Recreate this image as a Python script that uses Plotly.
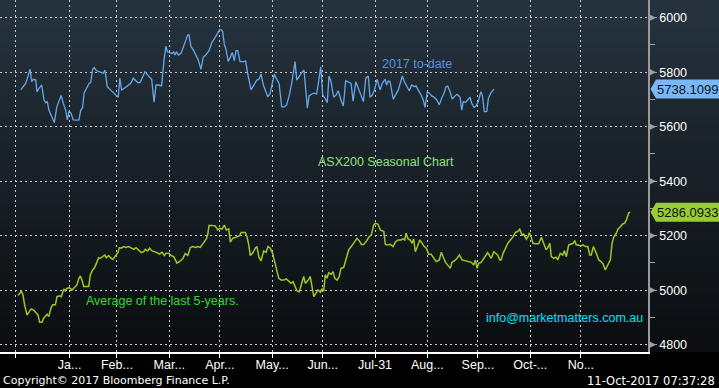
import plotly.graph_objects as go
import pandas as pd

# ---------------- data ----------------
base_date = pd.Timestamp("2016-12-30")

# 2017 to-date (days after 30-Dec-2016, index level)
blue_days = [3.0, 4.5, 5.9, 7.1, 8.5, 9.5, 10.4, 11.9, 12.6, 13.8, 15.4, 16.8, 17.8, 18.7, 19.7, 21.3, 22.9,
             24.3, 25.5, 26.9, 28.2, 29.6, 30.6, 31.6, 32.8, 34.1, 36.2, 37.5, 38.5, 39.7, 40.5, 42.1, 43.5,
             44.5, 45.6, 46.6, 47.8, 49.4, 51.0, 51.9, 52.9, 54.3, 55.9, 57.9, 59.9, 60.8, 61.7, 62.8, 64.4,
             66.4, 68.2, 69.7, 71.1, 72.3, 73.7, 75.0, 76.7, 78.2, 79.6, 80.6, 82.0, 83.2, 84.5, 86.5, 87.9,
             89.1, 89.9, 91.1, 92.5, 93.7, 94.4, 95.4, 96.4, 98.0, 99.4, 100.8, 102.0, 102.7, 103.9, 105.3,
             106.9, 108.2, 109.8, 111.2, 112.6, 114.6, 116.2, 117.7, 119.2, 120.7, 121.7, 122.7, 123.7, 124.5,
             126.0, 127.5, 128.4, 129.6, 130.6, 131.6, 133.0, 134.9, 136.3, 137.5, 139.5, 140.8, 142.3, 142.9,
             144.2, 145.4, 146.8, 148.2, 149.4, 150.7, 152.1, 153.3, 154.7, 156.1, 157.7, 159.2, 160.6, 162.2,
             163.6, 164.8, 165.6, 166.6, 168.1, 169.5, 170.9, 171.9, 172.9, 173.9, 175.5, 177.0, 178.4, 179.4,
             180.8, 182.0, 183.4, 184.7, 185.7, 186.9, 188.5, 189.9, 191.2, 192.8, 194.2, 195.6, 197.2, 198.8,
             200.0, 201.6, 203.1, 204.7, 206.1, 207.5, 209.0, 210.0, 211.4, 212.7, 214.2, 216.0, 217.3, 218.9,
             219.9, 220.9, 221.9, 223.8, 225.3, 226.8, 228.2, 229.2, 230.4, 231.8, 233.3, 234.7, 236.3, 237.3,
             238.7, 240.3, 241.6, 242.6, 244.0, 245.2, 246.6, 248.1, 249.6, 251.1, 252.5, 253.9, 255.1, 256.1,
             257.5, 258.8, 260.4, 261.8, 263.4, 264.4, 265.3, 266.8, 267.9, 269.3, 270.3, 271.7, 272.9, 274.2,
             275.7, 276.6, 277.8, 279.2, 280.2, 281.6, 283.5]
blue_vals = [5735, 5747, 5759, 5781, 5811, 5765, 5774, 5771, 5728, 5741, 5753, 5698, 5688, 5692, 5661, 5637, 5615,
             5671, 5692, 5715, 5686, 5661, 5625, 5658, 5649, 5625, 5624, 5625, 5659, 5671, 5723, 5743, 5759,
             5763, 5811, 5817, 5806, 5802, 5798, 5796, 5808, 5747, 5737, 5725, 5713, 5708, 5778, 5735, 5741,
             5749, 5759, 5778, 5771, 5762, 5762, 5781, 5802, 5790, 5781, 5774, 5690, 5753, 5753, 5750, 5845,
             5896, 5875, 5873, 5869, 5874, 5863, 5875, 5863, 5869, 5894, 5918, 5937, 5937, 5894, 5882,
             5863, 5845, 5811, 5855, 5863, 5879, 5908, 5922, 5937, 5955, 5957, 5949, 5900, 5888,
             5839, 5859, 5872, 5842, 5879, 5879, 5839, 5839, 5841, 5796, 5735, 5749, 5765, 5771,
             5774, 5793, 5753, 5728, 5710, 5720, 5759, 5792, 5774, 5759, 5673, 5673, 5680, 5716,
             5759, 5802, 5839, 5771, 5786, 5798, 5808, 5747, 5668, 5713, 5720, 5723, 5720, 5759,
             5820, 5716, 5704, 5688, 5786, 5765, 5708, 5716, 5732, 5698, 5676, 5769, 5765, 5759,
             5694, 5765, 5741, 5716, 5692, 5778, 5786, 5708, 5716, 5735, 5774, 5735, 5759, 5774,
             5753, 5768, 5765, 5701, 5716, 5735, 5765, 5786, 5765, 5747, 5732, 5753, 5747, 5750,
             5735, 5716, 5698, 5671, 5728, 5723, 5713, 5708, 5698, 5680, 5704, 5723, 5747, 5749,
             5728, 5701, 5713, 5719, 5708, 5661, 5692, 5690, 5698, 5708, 5686, 5671, 5676, 5692,
             5728, 5716, 5655, 5655, 5704, 5723, 5738.1099]

# Average of the last 5 years
green_days = [1.2, 2.1, 3.3, 4.3, 5.3, 6.7, 8.1, 9.2, 10.7, 12.0, 13.2, 14.2, 15.6, 16.6, 17.5, 18.6, 19.6, 20.9,
              21.9, 23.5, 24.5, 26.1, 27.0, 28.5, 29.4, 30.4, 31.8, 33.4, 34.7, 36.3, 37.3, 38.3, 39.3, 40.3,
              41.7, 43.3, 44.2, 45.6, 46.8, 48.2, 49.2, 50.2, 51.6, 52.8, 53.7, 55.1, 56.5, 57.7, 59.0, 60.6,
              61.4, 62.6, 64.0, 65.4, 67.0, 68.4, 70.0, 71.3, 72.9, 74.5, 75.9, 76.8, 78.2, 79.4, 80.8, 82.4,
              83.8, 85.1, 86.7, 88.1, 89.1, 90.7, 92.1, 93.7, 95.6, 97.6, 99.2, 100.5, 102.0, 103.5, 105.1,
              106.5, 107.9, 109.4, 110.4, 111.8, 113.0, 113.8, 114.6, 116.4, 118.3, 119.7, 120.9, 122.3, 123.7,
              124.8, 126.3, 127.2, 128.6, 130.2, 131.6, 132.8, 133.6, 135.2, 136.1, 137.1, 138.1, 139.1, 140.7,
              142.0, 143.0, 144.1, 145.4, 147.0, 148.4, 149.6, 150.9, 152.3, 153.3, 154.9, 155.9, 157.3, 158.9,
              160.4, 161.8, 163.2, 164.4, 165.7, 166.8, 168.1, 169.3, 170.7, 171.7, 173.1, 174.6, 175.6, 176.7,
              178.0, 179.2, 180.6, 181.6, 182.6, 183.5, 184.5, 185.5, 186.9, 188.1, 189.1, 190.5, 191.8, 192.8,
              194.4, 195.8, 197.4, 198.9, 200.4, 202.3, 203.7, 204.9, 206.3, 207.7, 209.3, 210.8, 212.2, 213.2,
              214.8, 216.1, 218.2, 219.1, 220.7, 222.1, 223.7, 225.0, 226.6, 228.4, 229.6, 230.6, 231.4, 232.6,
              233.9, 234.9, 235.9, 236.9, 238.3, 239.5, 240.9, 242.2, 243.4, 244.8, 246.2, 247.8, 249.3, 251.1,
              252.3, 253.7, 255.1, 256.3, 257.6, 258.6, 260.0, 261.6, 263.0, 264.6, 266.5, 268.5, 270.1, 271.5,
              272.5, 273.5, 274.5, 275.8, 277.0, 278.4, 279.8, 281.0, 281.9, 283.4, 284.3, 285.7, 286.9, 287.7,
              288.9, 290.2, 291.7, 293.2, 294.8, 296.2, 297.6, 298.8, 300.1, 301.1, 302.7, 303.7, 304.5, 305.5,
              306.6, 308.0, 310.0, 311.6, 313.0, 314.4, 315.5, 316.6, 317.5, 318.9, 320.3, 321.3, 322.8, 324.3,
              325.2, 326.4, 327.8, 329.2, 330.4, 331.4, 332.3, 333.5, 335.1, 336.3, 337.7, 339.1, 340.3, 341.2,
              342.4, 344.2, 345.6, 347.0, 348.2, 349.5, 351.1, 352.5, 353.5, 354.5, 356.0, 357.0, 358.4, 359.8,
              361.0, 362.0, 363.4, 364.3]
green_vals = [4982, 4985, 4997, 4982, 4946, 4909, 4921, 4931, 4927, 4919, 4909, 4882, 4882, 4897, 4903, 4912, 4903, 4934,
              4946, 4946, 4976, 4979, 4976, 5004, 4997, 5007, 5009, 5001, 5009, 5019, 5041, 5052, 5037, 5013,
              5013, 5013, 5056, 5074, 5083, 5107, 5119, 5117, 5123, 5129, 5119, 5127, 5117, 5113, 5125, 5138,
              5156, 5154, 5160, 5157, 5160, 5154, 5150, 5156, 5148, 5138, 5141, 5150, 5144, 5154, 5144, 5141,
              5138, 5132, 5139, 5127, 5135, 5135, 5127, 5123, 5099, 5107, 5117, 5135, 5127, 5156, 5160,
              5157, 5160, 5157, 5166, 5176, 5188, 5203, 5237, 5237, 5236, 5221, 5227, 5224, 5239,
              5221, 5225, 5176, 5190, 5193, 5196, 5200, 5212, 5212, 5212, 5196, 5168, 5127, 5138,
              5154, 5160, 5123, 5107, 5144, 5139, 5160, 5154, 5135, 5111, 5074, 5044, 5037, 5037,
              5041, 5034, 5025, 5031, 5013, 4997, 4994, 5016, 5050, 5025, 5034, 5050, 5007, 4976,
              4989, 5001, 4992, 5004, 4997, 5056, 5044, 5064, 5058, 5068, 5044, 5037, 5050, 5080,
              5083, 5117, 5148, 5160, 5172, 5190, 5181, 5168, 5168, 5178, 5194, 5203, 5239, 5246,
              5242, 5221, 5215, 5168, 5166, 5168, 5160, 5176, 5184, 5184, 5188, 5184, 5209, 5188,
              5184, 5172, 5188, 5141, 5163, 5184, 5172, 5160, 5154, 5132, 5132, 5117, 5105, 5111,
              5139, 5117, 5099, 5090, 5080, 5102, 5107, 5117, 5129, 5111, 5107, 5105, 5102, 5092,
              5111, 5080, 5099, 5101, 5111, 5123, 5138, 5125, 5117, 5141, 5135, 5129, 5111, 5111,
              5135, 5154, 5172, 5184, 5196, 5212, 5215, 5224, 5203, 5206, 5187, 5196, 5211, 5196,
              5172, 5170, 5170, 5194, 5172, 5148, 5157, 5172, 5123, 5117, 5121, 5111, 5135, 5129,
              5145, 5123, 5166, 5170, 5172, 5182, 5166, 5166, 5162, 5166, 5160, 5160, 5129, 5129,
              5160, 5135, 5111, 5105, 5096, 5074, 5092, 5111, 5172, 5194, 5209, 5224, 5233, 5243,
              5246, 5258, 5284, 5286.0933]

tick_dates = ["2016-12-30", "2017-01-31", "2017-02-28", "2017-03-31", "2017-04-30", "2017-05-31",
              "2017-06-30", "2017-07-31", "2017-08-31", "2017-09-30", "2017-10-31", "2017-11-30"]
tick_labels = ["", "Ja...", "Feb...", "Mar...", "Apr...", "May...", "Jun...", "Jul-31",
               "Aug...", "Sep...", "Oct-...", "No..."]
y_ticks = [4800, 5000, 5200, 5400, 5600, 5800, 6000]

# ---------------- helpers ----------------
def to_dates(days):
    return [base_date + pd.Timedelta(days=float(d)) for d in days]

W, H = 719, 388
L, R, T, B = 0, 71, 0, 36
PW = W - L - R  # plot width in px
FONT = "Liberation Sans, Arial, sans-serif"
BFONT = "DejaVu Sans, Verdana, sans-serif"

fig = go.Figure()

fig.add_trace(go.Scatter(x=to_dates(green_days), y=green_vals, mode="lines",
                         line=dict(color="#9cc925", width=1.5), hoverinfo="skip"))
fig.add_trace(go.Scatter(x=to_dates(blue_days), y=blue_vals, mode="lines",
                         line=dict(color="#66a8ea", width=1.3), hoverinfo="skip"))

shapes = []
# vertical background gradient
n = 48
top = (38, 51, 62)
bot = (11, 13, 16)
for i in range(n):
    t = (i + 0.5) / n
    c = tuple(int(round(bot[k] + t * (top[k] - bot[k]))) for k in range(3))
    shapes.append(dict(type="rect", xref="paper", yref="paper", x0=-0.01, x1=1.2,
                       y0=i / n, y1=(i + 1) / n + 0.002, fillcolor=f"rgb{c}",
                       line=dict(width=0), layer="below"))

# right-axis triangle tick marks
px = lambda p: p / PW
dv = 3.6697  # index points per pixel
for v in y_ticks:
    shapes.append(dict(type="path", xref="paper", yref="y",
                       path=f"M {px(649)},{v + 3.5 * dv} L {px(656)},{v} L {px(649)},{v - 3.5 * dv} Z",
                       fillcolor="#a0a0a0", line=dict(width=0), layer="above"))

# last-value tags
def tag(v, fill):
    h = 9.5 * dv
    shapes.append(dict(type="path", xref="paper", yref="y",
                       path=(f"M {px(650.5)},{v} L {px(656)},{v + h} L {px(725)},{v + h} "
                             f"L {px(725)},{v - h} L {px(656)},{v - h} Z"),
                       fillcolor=fill, line=dict(width=0), layer="above"))

tag(blue_vals[-1], "#7ab8f5")
tag(green_vals[-1], "#9acd32")

annotations = [
    dict(text=f"{blue_vals[-1]:.4f}", x=px(687), y=blue_vals[-1], xref="paper", yref="y",
         showarrow=False, font=dict(family=FONT, size=13, color="#0a1420"), xanchor="center", yanchor="middle"),
    dict(text=f"{green_vals[-1]:.4f}", x=px(687), y=green_vals[-1], xref="paper", yref="y",
         showarrow=False, font=dict(family=FONT, size=13, color="#0a1405"), xanchor="center", yanchor="middle"),
    dict(text="2017 to-date", x=px(380), y=1 - 64 / 352, xref="paper", yref="paper", showarrow=False,
         font=dict(family=FONT, size=12.5, color="#5b8fe0"), xanchor="left", yanchor="middle"),
    dict(text="ASX200 Seasonal Chart", x=px(316), y=1 - 162 / 352, xref="paper", yref="paper", showarrow=False,
         font=dict(family=FONT, size=12.5, color="#8fe07e"), xanchor="left", yanchor="middle"),
    dict(text="Average of the last 5-years.", x=px(84), y=1 - 300.5 / 352, xref="paper", yref="paper",
         showarrow=False, font=dict(family=FONT, size=12.5, color="#2edc2e"), xanchor="left", yanchor="middle"),
    dict(text="info@marketmatters.com.au", x=px(484), y=1 - 317.7 / 352, xref="paper", yref="paper",
         showarrow=False, font=dict(family=FONT, size=12.5, color="#00e2f2"), xanchor="left", yanchor="middle"),
    dict(text="Copyright\u00a9 2017 Bloomberg Finance L.P.", x=px(1), y=(352 - 380.5) / 352, xref="paper",
         yref="paper", showarrow=False, font=dict(family=BFONT, size=11, color="#ffffff"),
         xanchor="left", yanchor="middle"),
    dict(text="11-Oct-2017 07:37:28", x=px(717), y=(352 - 380.5) / 352, xref="paper", yref="paper",
         showarrow=False, font=dict(family=BFONT, size=11.5, color="#ffffff"),
         xanchor="right", yanchor="middle"),
]

x_left = base_date - pd.Timedelta(days=15.7 / 1.687)
x_right = base_date + pd.Timedelta(days=(PW - 15.7) / 1.687)

fig.update_layout(
    template="none",
    width=W, height=H,
    margin=dict(l=L, r=R, t=T, b=B, pad=0, autoexpand=False),
    paper_bgcolor="#000000",
    plot_bgcolor="rgba(0,0,0,0)",
    showlegend=False,
    hovermode=False,
    shapes=shapes,
    annotations=annotations,
    xaxis=dict(
        type="date", range=[x_left, x_right], automargin=False,
        tickmode="array", tickvals=tick_dates, ticktext=tick_labels,
        showgrid=True, gridcolor="#c8c8c8", gridwidth=1, griddash="2px,3px",
        showline=True, linecolor="#ffffff", linewidth=1.5,
        ticks="outside", ticklen=4, tickcolor="#ffffff", tickwidth=1,
        ticklabelstandoff=-4,
        tickfont=dict(family=FONT, size=12.5, color="#ffffff"),
        zeroline=False, fixedrange=True,
    ),
    yaxis=dict(
        side="right", range=[4773, 6065], automargin=False,
        tickmode="array", tickvals=y_ticks,
        showgrid=True, gridcolor="#c8c8c8", gridwidth=1, griddash="2px,3px",
        showline=True, linecolor="#9a9a9a", linewidth=1.5,
        ticks="outside", ticklen=7, tickcolor="#a0a0a0", tickwidth=1,
        minor=dict(tickvals=[4900, 5100, 5300, 5500, 5700, 5900], ticks="outside", ticklen=5,
                   tickcolor="#a0a0a0", showgrid=False),
        tickfont=dict(family=FONT, size=12.5, color="#ffffff"),
        zeroline=False, fixedrange=True,
    ),
)

fig.write_html("out.html", config={"displayModeBar": False},
               post_script="document.body.style.margin='0px';document.body.style.background='#000';")
